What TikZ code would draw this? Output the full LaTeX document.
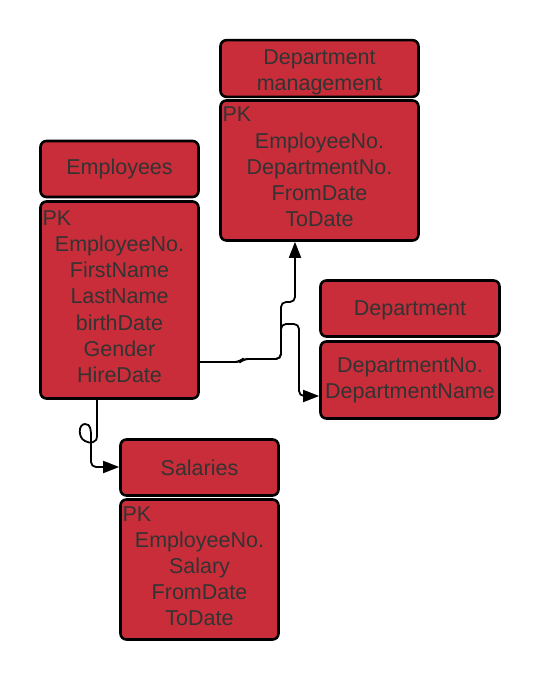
\documentclass[tikz,border=0pt]{standalone}
\usepackage{fontspec}
\setmainfont{Liberation Sans}
\usetikzlibrary{arrows.meta}
\definecolor{erred}{HTML}{C92D39}
\definecolor{ertext}{HTML}{333333}

\begin{document}
\begin{tikzpicture}[x=1pt,y=-1pt]
            \tikzstyle{box}=[draw=black,line width=2.6pt,fill=erred,rounded corners=6pt,text=ertext,inner sep=2pt,font=\fontsize{21.5}{26.2}\selectfont,align=center]
            \tikzstyle{head}=[box,minimum height=56pt]
            \tikzstyle{link}=[draw=black,line width=1.8pt,rounded corners=5pt,-{Triangle[length=16pt,width=12pt]}]

            \def\gap{\rule[-7pt]{0pt}{1pt}}
            \def\lift#1{\rule{0pt}{#1}}
            \def\pk{\makebox[\linewidth][l]{PK}}

            \useasboundingbox (0,0) rectangle (540,682);

            \node[head,minimum width=198pt] (mgmtHead) at (319.5,68.5) {\lift{22pt}Department\\management};
            \node[box,text width=194pt,minimum height=140pt] (mgmtBody) at (319.5,170.5) {\pk\\EmployeeNo.\\DepartmentNo.\\FromDate\\ToDate\gap};

            \node[head,minimum width=158pt] (empHead) at (119.5,169) {Employees};
            \node[box,text width=154pt,minimum height=197pt] (empBody) at (119.5,300) {\pk\\EmployeeNo.\\FirstName\\LastName\\birthDate\\Gender\\HireDate\gap};

            \node[head,minimum width=179pt] (depHead) at (410,308.5) {\lift{19pt}Department};
            \node[box,minimum width=179pt,minimum height=77pt] (depBody) at (410,380) {DepartmentNo.\\DepartmentName};

            \node[head,minimum width=158pt] (salHead) at (199.5,467.5) {Salaries};
            \node[box,text width=154pt,minimum height=140pt] (salBody) at (199.5,569.5) {\pk\\EmployeeNo.\\Salary\\FromDate\\ToDate\gap};

            \path[link] (empBody.east |- 0,362) -- (240,362) -- (243,359) -- (281,359) -- (281,302) -- (295,302) -- (mgmtBody.south -| 295,0);
            \path[link] (empBody.east |- 0,362) -- (240,362) -- (243,359) -- (281,359) -- (281,324) -- (299,324) -- (299,396) -- (depBody.west |- 0,396);
            \path[link,sharp corners] (empBody.south -| 97,0) -- (97,436) .. controls (97,443) and (90,444) .. (85,441) .. controls (78,438) and (78,424) .. (85,424) .. controls (91,424) and (91,430) .. (91,438) [rounded corners=5pt] -- (91,467) -- (salHead.west |- 0,467);
        \end{tikzpicture}
\end{document}
